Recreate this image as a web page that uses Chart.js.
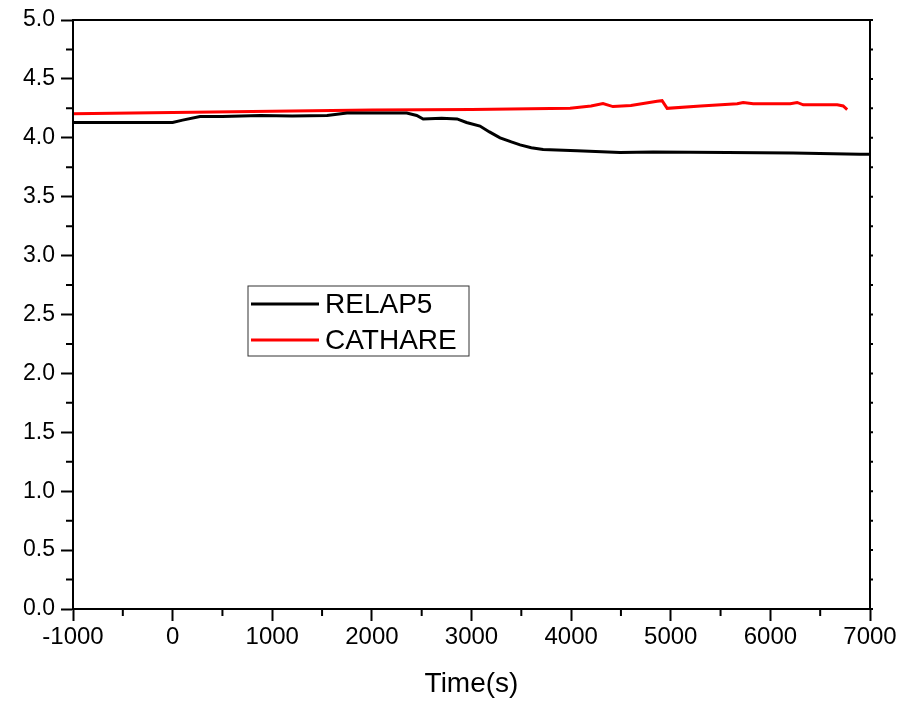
<!DOCTYPE html>
<html lang="en">

<head>
    <meta charset="UTF-8">
    <title>RELAP5 vs CATHARE</title>
    <script src="https://cdn.jsdelivr.net/npm/chart.js"></script>
    <style>
        body {
            margin: 0;
            padding: 0;
            background: #fff;
        }

        #wrap {
            width: 912px;
            height: 701px;
        }
    </style>
</head>

<body>
    <div id="wrap"><canvas id="chart" width="912" height="701"></canvas></div>

    <script>
        // values
        const relapTime = [-1000, 0, 100, 275, 500, 880, 1200, 1550, 1750, 2000, 2350, 2450, 2515, 2700, 2855, 2950, 3085, 3180, 3287, 3400, 3488, 3600, 3719, 4060, 4492, 4823, 5566, 6229, 6900, 7000];
        const relapValues = [4.13, 4.13, 4.15, 4.18, 4.18, 4.19, 4.185, 4.19, 4.21, 4.21, 4.21, 4.19, 4.16, 4.165, 4.16, 4.13, 4.10, 4.05, 4.00, 3.965, 3.94, 3.915, 3.90, 3.89, 3.875, 3.88, 3.875, 3.87, 3.86, 3.86];

        const cathareTime = [-1000, 0, 1000, 2000, 3000, 3990, 4200, 4320, 4420, 4600, 4863, 4913, 4964, 5300, 5667, 5727, 5828, 6199, 6269, 6330, 6671, 6731, 6771];
        const cathareValues = [4.205, 4.215, 4.225, 4.235, 4.24, 4.25, 4.27, 4.29, 4.265, 4.275, 4.31, 4.315, 4.25, 4.27, 4.29, 4.30, 4.29, 4.29, 4.30, 4.28, 4.28, 4.27, 4.24];

        const seriesNames = ['RELAP5', 'CATHARE'];
        const seriesColors = ['#000000', '#ff0000'];

        const xMin = -1000, xMax = 7000, xStep = 1000;
        const yMin = 0, yMax = 5, yStep = 0.5;

        const FONT = '"Liberation Sans", Arial, sans-serif';

        const toPoints = (xs, ys) => xs.map((x, i) => ({ x: x, y: ys[i] }));

        // frame, minor ticks and the legend box
        const framePlugin = {
            id: 'frame',
            afterDraw(chart) {
                const { ctx, chartArea: a, scales } = chart;
                const xs = scales.x, ys = scales.y;
                ctx.save();
                ctx.strokeStyle = '#000';
                ctx.lineWidth = 2;
                ctx.strokeRect(a.left, a.top, a.right - a.left, a.bottom - a.top);

                // minor ticks on left and bottom
                ctx.beginPath();
                for (let v = xMin + xStep / 2; v < xMax; v += xStep) {
                    const px = xs.getPixelForValue(v);
                    ctx.moveTo(px, a.bottom);
                    ctx.lineTo(px, a.bottom + 7);
                }
                for (let v = yMin + yStep / 2; v < yMax; v += yStep) {
                    const py = ys.getPixelForValue(v);
                    ctx.moveTo(a.left, py);
                    ctx.lineTo(a.left - 7, py);
                }
                // small ticks on the right axis
                for (let v = yMin; v <= yMax + 1e-9; v += yStep / 2) {
                    const py = ys.getPixelForValue(v);
                    ctx.moveTo(a.right, py);
                    ctx.lineTo(a.right + 3, py);
                }
                ctx.stroke();

                // legend
                const lx = a.left + 175, ly = a.top + 266, lw = 221, lh = 70;
                ctx.lineWidth = 1;
                ctx.strokeStyle = '#333';
                ctx.strokeRect(lx, ly, lw, lh);
                ctx.font = '28px ' + FONT;
                ctx.textBaseline = 'middle';
                chart.data.datasets.forEach((ds, i) => {
                    const yy = ly + 18 + i * 36;
                    ctx.strokeStyle = ds.borderColor;
                    ctx.lineWidth = 3;
                    ctx.beginPath();
                    ctx.moveTo(lx + 3, yy);
                    ctx.lineTo(lx + 71, yy);
                    ctx.stroke();
                    ctx.fillStyle = '#000';
                    ctx.fillText(ds.label, lx + 77, yy + 1);
                });
                ctx.restore();
            }
        };

        const ctx = document.getElementById('chart').getContext('2d');
        new Chart(ctx, {
            type: 'line',
            data: {
                datasets: [
                    {
                        label: seriesNames[0],
                        data: toPoints(relapTime, relapValues),
                        borderColor: seriesColors[0],
                        borderWidth: 3,
                        pointRadius: 0,
                        tension: 0,
                        fill: false,
                    },
                    {
                        label: seriesNames[1],
                        data: toPoints(cathareTime, cathareValues),
                        borderColor: seriesColors[1],
                        borderWidth: 3,
                        pointRadius: 0,
                        tension: 0,
                        fill: false,
                    },
                ],
            },
            options: {
                responsive: false,
                animation: false,
                layout: { padding: { top: 20, right: 42, left: 0, bottom: 0 } },
                plugins: {
                    legend: { display: false },
                    tooltip: { enabled: false },
                },
                scales: {
                    x: {
                        type: 'linear',
                        min: xMin,
                        max: xMax,
                        afterFit: s => { s.height = 92; },
                        ticks: {
                            stepSize: xStep,
                            color: '#000',
                            font: { size: 24, family: FONT },
                            padding: 2,
                            maxRotation: 0,
                            callback: v => String(v),
                        },
                        grid: {
                            drawOnChartArea: false,
                            drawTicks: true,
                            tickLength: 12,
                            tickWidth: 2,
                            tickColor: '#000',
                        },
                        border: { color: '#000', width: 2 },
                        title: {
                            display: true,
                            text: 'Time(s)',
                            color: '#000',
                            font: { size: 28, family: FONT },
                            padding: { top: 8, bottom: 0 },
                        },
                    },
                    y: {
                        type: 'linear',
                        min: yMin,
                        max: yMax,
                        afterFit: s => { s.width = 73; },
                        ticks: {
                            stepSize: yStep,
                            color: '#000',
                            font: { size: 23, family: FONT },
                            padding: 6,
                            callback: v => v.toFixed(1),
                        },
                        grid: {
                            drawOnChartArea: false,
                            drawTicks: true,
                            tickLength: 12,
                            tickWidth: 2,
                            tickColor: '#000',
                        },
                        border: { color: '#000', width: 2 },
                    },
                },
            },
            plugins: [framePlugin],
        });
    </script>
</body>

</html>
